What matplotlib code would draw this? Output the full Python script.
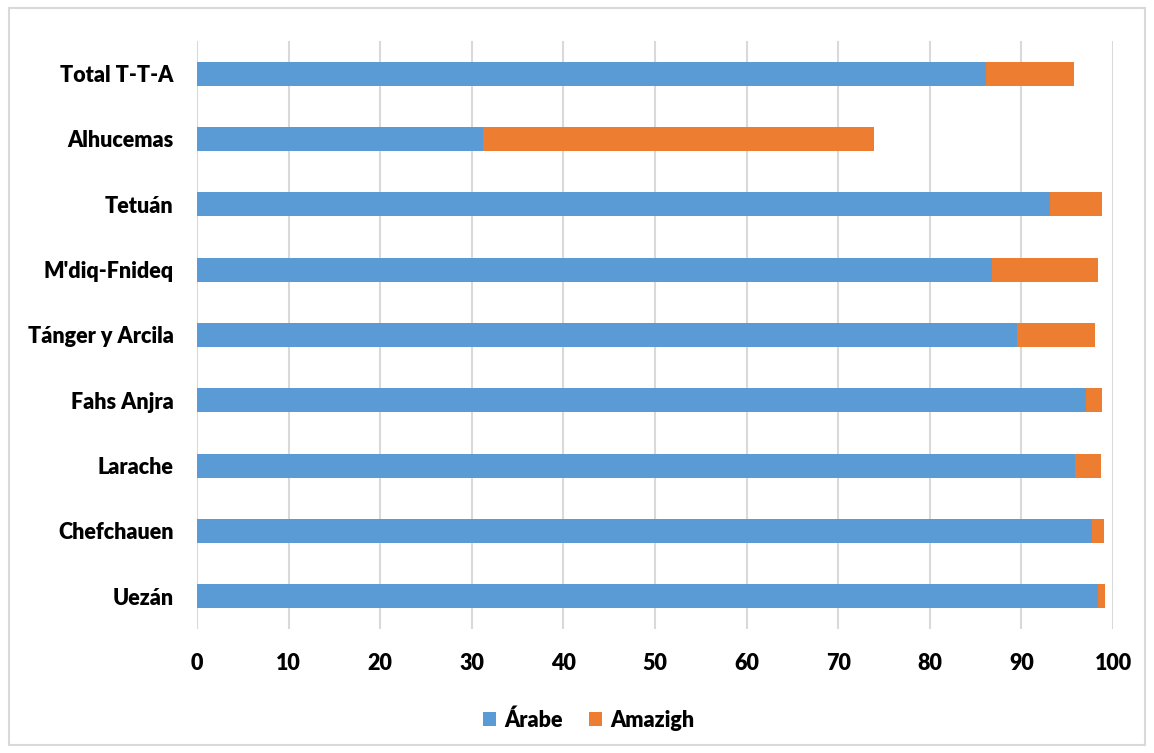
import matplotlib.pyplot as plt
from matplotlib.patches import Rectangle

# Share of population by mother tongue (%) per province
provinces = ["Uezán", "Chefchauen", "Larache", "Fahs Anjra", "Tánger y Arcila",
             "M'diq-Fnideq", "Tetuán", "Alhucemas", "Total T-T-A"]
arabe = [98.4, 97.7, 95.9, 97.0, 89.5, 86.8, 93.1, 31.2, 86.1]
amazigh = [0.7, 1.3, 2.8, 1.8, 8.5, 11.6, 5.7, 42.7, 9.6]
xticks = [0, 10, 20, 30, 40, 50, 60, 70, 80, 90, 100]

plt.rcParams['font.family'] = ['Lato', 'DejaVu Sans']

fig = plt.figure(figsize=(11.54, 7.53), dpi=100)
ax = fig.add_axes([0.1707, 0.1647, 0.7938, 0.7809])

# outer chart frame
fig.patches.append(Rectangle((9 / 1154, 8 / 753), 1136 / 1154, 737 / 753,
                             transform=fig.transFigure, fill=False,
                             edgecolor='#D9D9D9', linewidth=1.5))

y = range(len(provinces))
h = 0.37
ax.barh(y, arabe, height=h, color='#5B9BD5', label='Árabe', zorder=3)
ax.barh(y, amazigh, left=arabe, height=h, color='#ED7D31', label='Amazigh', zorder=3)

ax.set_xlim(0, 100)
ax.set_ylim(-0.5, len(provinces) - 0.5)
ax.set_xticks(xticks)
ax.set_xticklabels([str(t) for t in xticks], fontsize=15.5, fontweight='heavy', color='#000000')
ax.set_yticks(list(y))
ax.set_yticklabels(provinces, fontsize=15.5, fontweight='heavy', color='#000000')
ax.tick_params(axis='both', length=0)
ax.tick_params(axis='x', pad=17)
ax.tick_params(axis='y', pad=17)

ax.grid(axis='x', color='#D9D9D9', linewidth=1.5, zorder=0)
ax.grid(axis='y', visible=False)
for s in ax.spines.values():
    s.set_visible(False)

leg = fig.legend(loc='center', bbox_to_anchor=(589 / 1154, 1 - 720 / 753), ncol=2,
                 frameon=False, prop={'weight': 'heavy', 'size': 15.5},
                 handlelength=0.6, handleheight=0.6, handletextpad=0.4,
                 columnspacing=1.2)

fig.savefig('out.png', dpi=100, facecolor='white')
